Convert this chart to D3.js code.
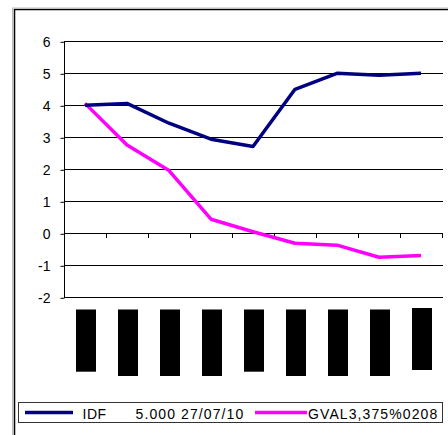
<!DOCTYPE html>
<html>
<head>
<meta charset="utf-8">
<script src="https://cdn.jsdelivr.net/npm/d3@7"></script>
<style>
  html, body { margin: 0; padding: 0; background: #fff; }
  svg { display: block; }
  text { font-family: "Liberation Sans", Arial, sans-serif; font-size: 14px; fill: #000; }
</style>
</head>
<body>
<svg id="chart" width="448" height="435"></svg>
<script>
// Nine observation points along the horizontal axis
const categories = [1, 2, 3, 4, 5, 6, 7, 8, 9];
// Yield series
const idfValues  = [4.00, 4.06, 3.44, 2.94, 2.71, 4.50, 5.00, 4.94, 5.00];
const gvalValues = [4.06, 2.76, 1.96, 0.44, 0.05, -0.31, -0.37, -0.75, -0.69];
const yTicks = [-2, -1, 0, 1, 2, 3, 4, 5, 6];
const seriesLabels = [["IDF", "5.000 27/07/10"], ["GVAL3,375%0208"]];
const seriesColors = ["#000080", "#FF00FF"];

const svg = d3.select("#chart");

// outer chart frame
svg.append("rect")
  .attr("x", 14.5).attr("y", 9.5)
  .attr("width", 460).attr("height", 440)
  .attr("fill", "none").attr("stroke", "#000").attr("stroke-width", 1.5);
svg.append("line")
  .attr("x1", 12.5).attr("x2", 12.5).attr("y1", 8).attr("y2", 435)
  .attr("stroke", "#bbb").attr("stroke-width", 1);
svg.append("line")
  .attr("x1", 12).attr("x2", 448).attr("y1", 8).attr("y2", 8)
  .attr("stroke", "#bbb").attr("stroke-width", 1);

const plotLeft = 64, plotRight = 442;
const x = d3.scaleBand().domain(categories).range([plotLeft, plotRight]).padding(0);
const y = d3.scaleLinear().domain([-2, 6]).range([297.3, 41.3]);

// horizontal gridlines
svg.append("g").selectAll("line").data(yTicks).join("line")
  .attr("x1", plotLeft).attr("x2", plotRight + 1)
  .attr("y1", d => Math.round(y(d)) + 0.5).attr("y2", d => Math.round(y(d)) + 0.5)
  .attr("stroke", "#000").attr("stroke-width", 1);

// value axis
const yAxis = svg.append("g")
  .attr("transform", `translate(${plotLeft + 0.5},0.5)`)
  .call(d3.axisLeft(y).tickValues(yTicks).tickSize(4).tickPadding(10).tickFormat(d => String(d)));
yAxis.select(".domain").attr("stroke", "#000").attr("d", `M0,${Math.round(y(6))}V${Math.round(y(-2))}`);
yAxis.selectAll(".tick line").attr("stroke", "#000");
yAxis.selectAll(".tick text")
  .style("font-family", "Liberation Sans, Arial, sans-serif").style("font-size", "14px");

// category axis along zero, with ticks at band edges
const edges = categories.map(c => x(c)).concat([plotRight]);
svg.append("g").selectAll("line").data(edges).join("line")
  .attr("x1", d => Math.round(d) + 0.5).attr("x2", d => Math.round(d) + 0.5)
  .attr("y1", Math.round(y(0))).attr("y2", Math.round(y(0)) + 5)
  .attr("stroke", "#000");

// category label blocks (rendered as solid dark blocks)
const blockLong = [false, true, true, true, false, true, true, true, false];
svg.append("g").selectAll("rect").data(categories).join("rect")
  .attr("x", d => x(d) + x.bandwidth() / 2 - 9)
  .attr("y", (d, i) => i === 8 ? 308 : 309.5)
  .attr("width", 20)
  .attr("height", (d, i) => i === 8 ? 62 : (blockLong[i] ? 66.5 : 62.2))
  .attr("fill", "#000");

// series lines
const line = d3.line()
  .x((d, i) => x(categories[i]) + x.bandwidth() / 2)
  .y(d => y(d));

[gvalValues, idfValues].forEach((vals, k) => {
  svg.append("path")
    .datum(vals)
    .attr("d", line)
    .attr("fill", "none")
    .attr("stroke", seriesColors[1 - k])
    .attr("stroke-width", 3.5)
    .attr("stroke-linejoin", "round");
});

// legend
const legend = svg.append("g");
legend.append("rect")
  .attr("x", 18.5).attr("y", 402.5).attr("width", 424).attr("height", 20)
  .attr("fill", "#fff").attr("stroke", "#333").attr("stroke-width", 1);
const legendItems = [
  { line: [25, 73], textX: [82.5, 135.5] },
  { line: [255, 307], textX: [308] }
];
legendItems.forEach((it, k) => {
  legend.append("line")
    .attr("x1", it.line[0]).attr("x2", it.line[1]).attr("y1", 412.5).attr("y2", 412.5)
    .attr("stroke", seriesColors[k]).attr("stroke-width", 3.5);
  seriesLabels[k].forEach((s, j) => {
    legend.append("text")
      .attr("x", it.textX[j]).attr("y", 419)
      .attr("letter-spacing", j === 0 && k === 0 ? 0.5 : 1.1)
      .text(s);
  });
});
</script>
</body>
</html>
